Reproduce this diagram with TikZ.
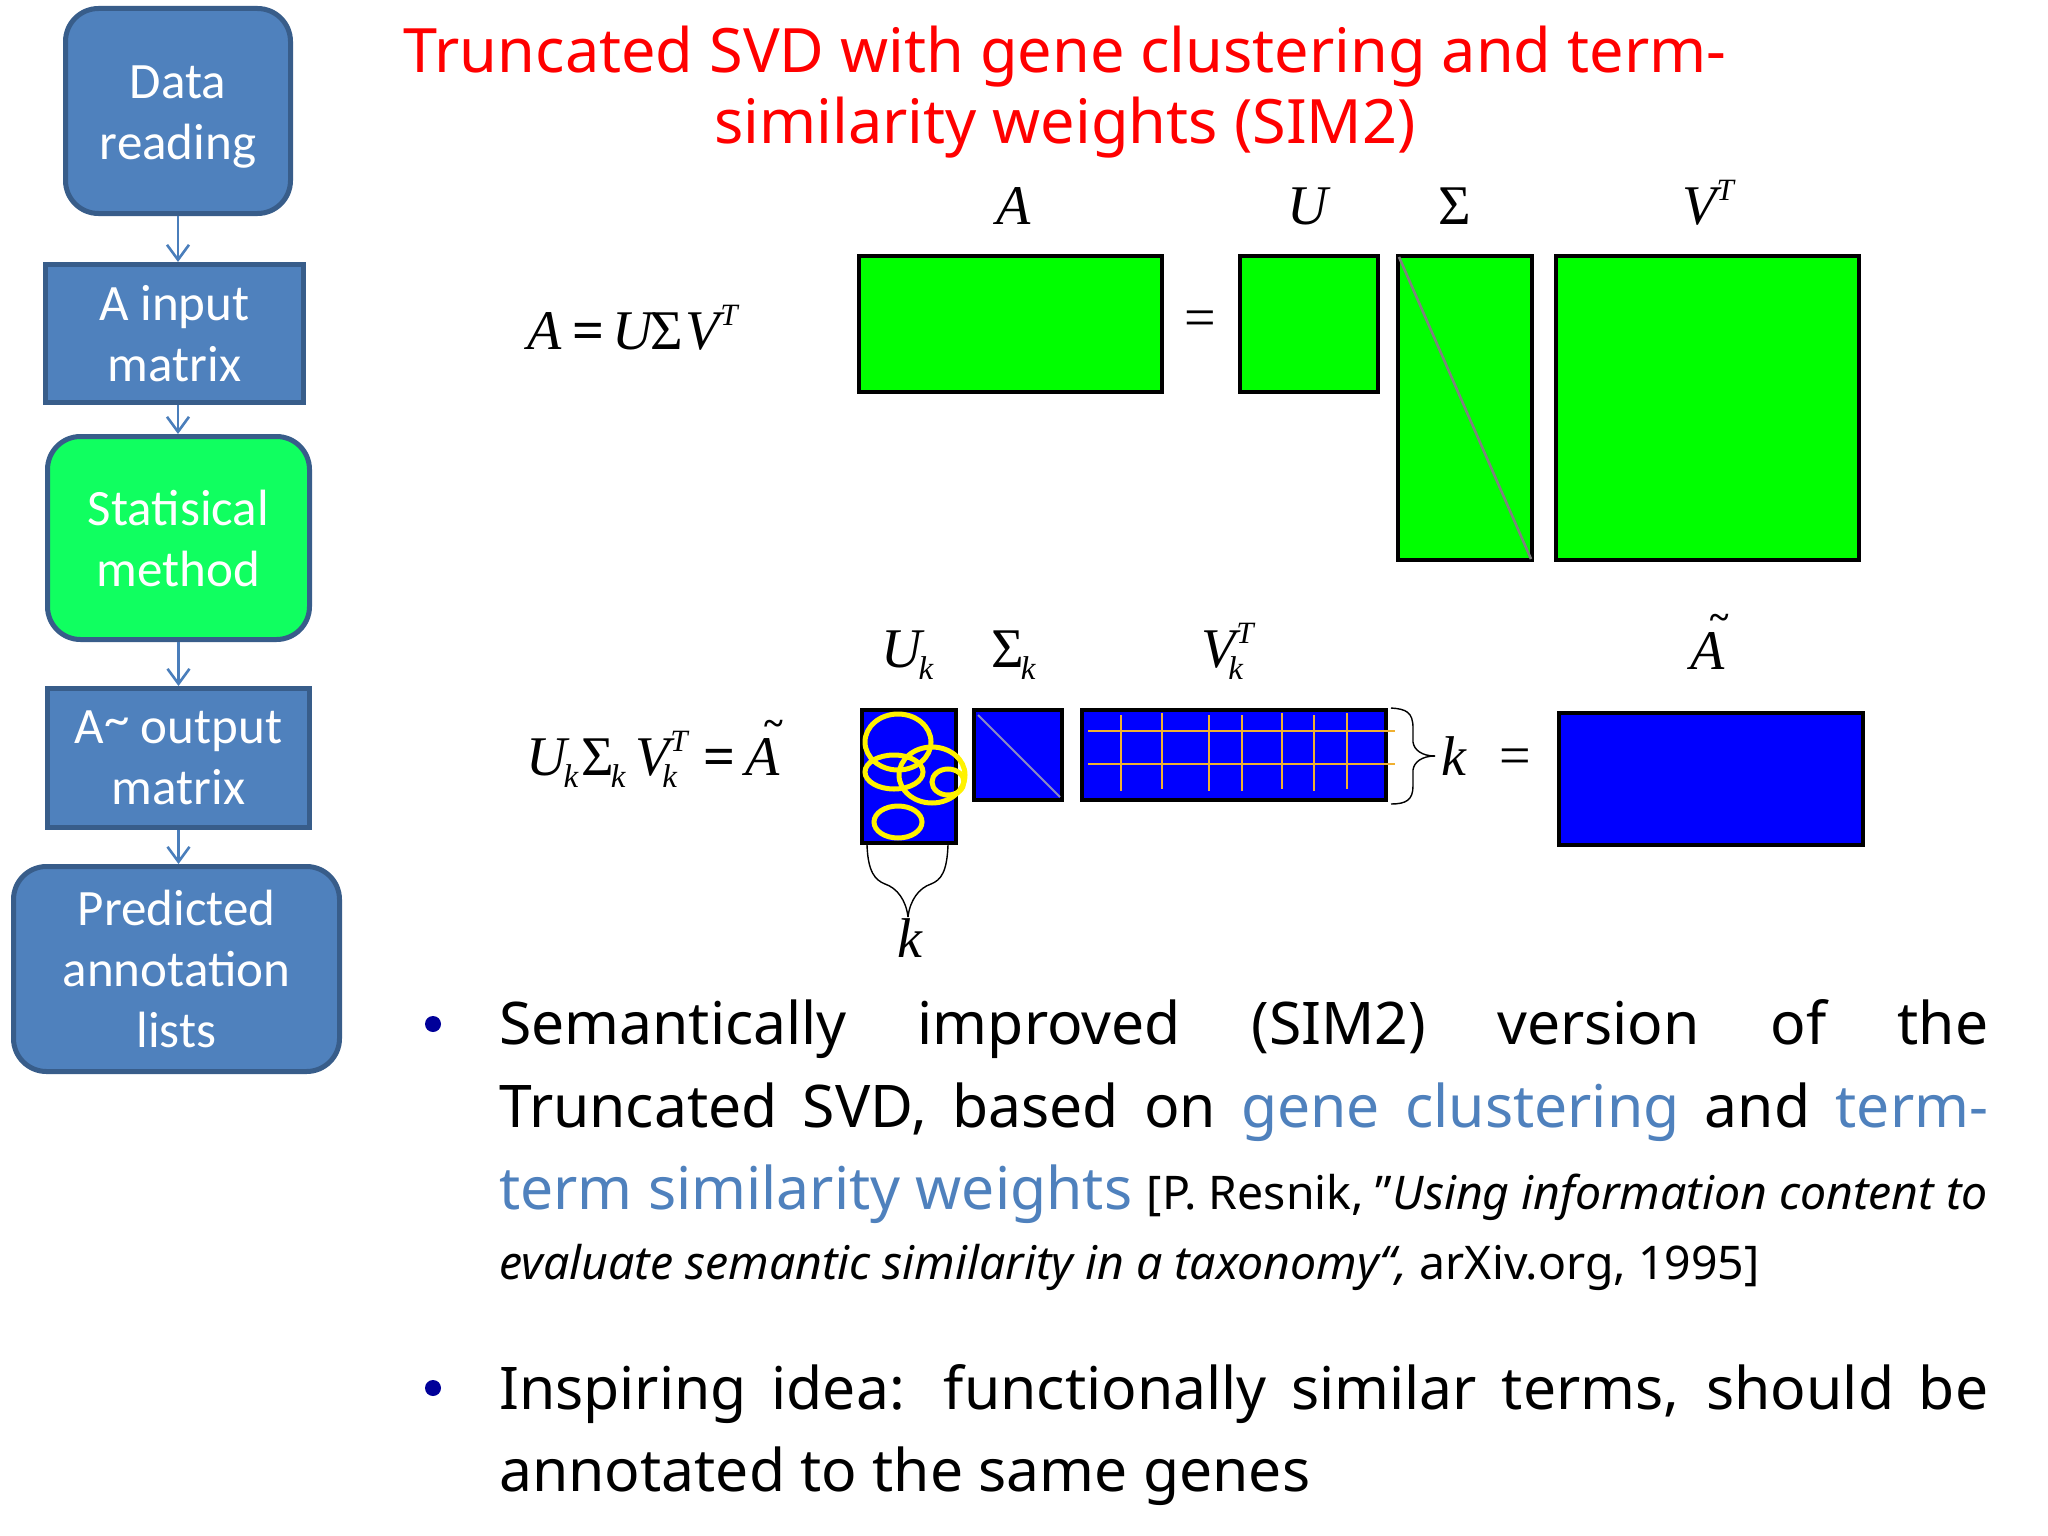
\documentclass[tikz,border=0pt]{standalone}
\usepackage{fontspec}
\setmainfont{Noto Sans}
\newfontfamily\boxfont{Carlito}
\newfontfamily\tm{Liberation Serif}
\newcommand\ssize[2]{\fontsize{#1}{#2}\selectfont}
\newcommand\sk{\raisebox{-12pt}{\ssize{33}{33}\itshape k}}
\newcommand\supT{\raisebox{24pt}{\ssize{31}{31}\itshape T}}
\newcommand\Vkt{V\rlap{\hspace{1pt}\supT}\hspace{-7pt}\sk}
\newcommand\Atil{\rlap{\hspace{19pt}\raisebox{40pt}{\ssize{36}{36}\upshape\bfseries\textasciitilde}}A}
\newcommand\bline[1]{\makebox[1489pt][s]{#1}}
\usetikzlibrary{arrows.meta}
\definecolor{boxblue}{HTML}{4F81BD}
\definecolor{boxedge}{HTML}{385D8A}
\definecolor{flow}{HTML}{4A7EBB}
\definecolor{boxgreen}{HTML}{10FF60}
\definecolor{linkblue}{HTML}{4F81BD}
\definecolor{bulletblue}{HTML}{000099}
\definecolor{gridline}{HTML}{F0B030}
\tikzset{
  flowbox/.style={draw=boxedge,fill=boxblue,line width=5pt,text=white,align=center,inner sep=0pt,
     font=\boxfont\ssize{51}{61}},
  roundbox/.style={flowbox,rounded corners=33pt},
  flowarrow/.style={draw=flow,line width=2.6pt,-{Straight Barb[length=15pt,width=22pt,line width=2.6pt]}},
  greenmat/.style={draw=black,fill=green,line width=3.4pt},
  bluemat/.style={draw=black,fill=blue,line width=3.4pt},
  diag/.style={draw=gray,line width=2.6pt},
  grid/.style={draw=gridline,line width=2pt},
  ring/.style={draw=yellow,line width=5pt},
  brace/.style={draw=black,line width=1.4pt},
  mathtext/.style={anchor=base west,inner sep=0pt,font=\tm\ssize{56}{56}},
  mathmid/.style={anchor=base,inner sep=0pt,font=\tm\ssize{56}{56}},
  titletext/.style={anchor=base,inner sep=0pt,text=red,font=\ssize{61.2}{62}},
  bodyline/.style={anchor=base west,inner sep=0pt,font=\ssize{58.8}{59}},
  smallline/.style={anchor=base west,inner sep=0pt,font=\ssize{46.4}{47}},
  dot/.style={fill=bulletblue}
}
\begin{document}
\begin{tikzpicture}[x=1pt,y=-1pt]
\useasboundingbox (0,0) rectangle (2048,1536);
\fill[white] (0,0) rectangle (2048,1536);
% flow column
\node[roundbox,minimum width=225pt,minimum height=205pt] (data) at (178,111) {\rule{0pt}{44pt}Data\\reading};
\node[flowbox,minimum width=258pt,minimum height=138pt] (input) at (174.5,333.5) {A input\\matrix};
\node[roundbox,fill=boxgreen,minimum width=262pt,minimum height=203pt] (stat) at (178.5,538) {Statisical\\method};
\node[flowbox,minimum width=262pt,minimum height=139pt] (output) at (178.5,758) {A\raisebox{7pt}{\textasciitilde} output\\matrix};
\node[roundbox,minimum width=326pt,minimum height=205pt] (pred) at (176.5,969) {Predicted\\annotation\\lists};
\draw[flowarrow] (data.south) -- (data.south |- input.north);
\draw[flowarrow] (data.south |- input.south) -- (data.south |- stat.north);
\draw[flowarrow] (stat.south) -- (stat.south |- output.north);
\draw[flowarrow] (stat.south |- output.south) -- (stat.south |- pred.north);
% title
\node[titletext] (t1) at (1065,73) {Truncated SVD with gene clustering and term-};
\node[titletext] (t2) at (1065,144) {similarity weights (SIM2)};
% top matrices
\draw[greenmat] (859,256) rectangle (1162,392);
\draw[greenmat] (1240,256) rectangle (1378,392);
\draw[greenmat] (1398,256) rectangle (1532,560);
\draw[greenmat] (1556,256) rectangle (1859,560);
\draw[diag] (1399,257) -- (1531,559);
\node[mathmid] (lA) at (1014,224) {\itshape A};
\node[mathmid] (lU) at (1308,224) {\itshape U};
\node[mathmid] (lS) at (1455,224) {Σ};
\node[mathmid] (lV) at (1708,224) {\itshape V\supT};
\node[mathmid] (eqa) at (1200,336) {=};
\node[mathtext] (eq1) at (527,349) {\itshape\makebox[45pt][l]{A}\makebox[40pt][l]{\upshape\bfseries =}\makebox[38pt][l]{U}\makebox[35pt][l]{\upshape Σ}V\hspace{1pt}\supT};
% bottom matrices
\draw[bluemat] (862,710) rectangle (956,843);
\draw[bluemat] (974,710) rectangle (1062,800);
\draw[bluemat] (1082,710) rectangle (1386,800);
\draw[bluemat] (1559,713) rectangle (1863,845);
\draw[draw=gray!70!blue!70!white,line width=2pt] (978,715) -- (1060,797);
\foreach \x/\a/\b in {1121/715/791,1162/713/789,1209/715/791,1242/715/791,1282/713/789,1314/715/791,1347/713/789}
  \draw[grid] (\x,\a) -- (\x,\b);
\draw[grid] (1088,731) -- (1395,731);
\draw[grid] (1088,764) -- (1395,764);
\draw[ring] (898,742) ellipse [x radius=33pt,y radius=28pt];
\draw[ring] (894,772) ellipse [x radius=29pt,y radius=17pt];
\draw[ring] (932,775) ellipse [x radius=33pt,y radius=28pt];
\draw[ring] (948,782) ellipse [x radius=16pt,y radius=13pt];
\draw[ring] (898,822) ellipse [x radius=24pt,y radius=16pt];
\draw[brace] (867,845) .. controls (868,872) and (875,880) .. (885,884) .. controls (897,888) and (906,900) .. (908,917);
\draw[brace] (948,845) .. controls (947,872) and (941,880) .. (931,884) .. controls (919,888) and (910,900) .. (908,917);
\draw[brace] (1391,708) .. controls (1406,709) and (1413,712) .. (1413,728) -- (1413,742) .. controls (1414,750) and (1422,756) .. (1435,756);
\draw[brace] (1391,804) .. controls (1406,804) and (1413,800) .. (1413,786) -- (1413,770) .. controls (1414,762) and (1422,756) .. (1435,756);
\node[mathtext] (lUk) at (881,667) {\itshape U\hspace{-3pt}\sk};
\node[mathtext] (lSk) at (991,667) {Σ\hspace{-3pt}\sk};
\node[mathtext] (lVk) at (1201,667) {\itshape\Vkt};
\node[mathmid] (lAt) at (1708,669) {\itshape\Atil};
\node[mathtext] (kr) at (1441,775) {\itshape k};
\node[mathmid] (eqb) at (1515,774) {=};
\node[mathmid] (kb) at (910,957) {\itshape k};
\node[mathtext] (eq2) at (526,775) {\itshape\makebox[55pt][l]{U\hspace{-3pt}\sk}\makebox[54pt][l]{\upshape Σ\hspace{-3pt}\sk}\makebox[68pt][l]{\Vkt}\makebox[42pt][l]{\upshape\bfseries =}\Atil};
% bullets
\fill[dot] (433,1024) circle (8pt);
\fill[dot] (433,1388) circle (8pt);
\node[bodyline] (b1) at (499,1044) {\bline{Semantically improved (SIM2) version of the}};
\node[bodyline] (b2) at (499,1127) {\bline{Truncated SVD, based on \textcolor{linkblue}{gene clustering} and \textcolor{linkblue}{term-}}};
\node[bodyline] (b3) at (499,1209) {\textcolor{linkblue}{term similarity weights}};
\node[smallline,anchor=base east] (b3r) at (1988,1209) {[P. Resnik, "\textit{Using information content to}};
\node[smallline] (b4) at (499,1279) {\textit{evaluate semantic similarity in a taxonomy“,} arXiv.org, 1995]};
\node[bodyline] (b5) at (499,1409) {\bline{Inspiring idea: functionally similar terms, should be}};
\node[bodyline] (b6) at (499,1491) {annotated to the same genes};
\end{tikzpicture}
\end{document}
